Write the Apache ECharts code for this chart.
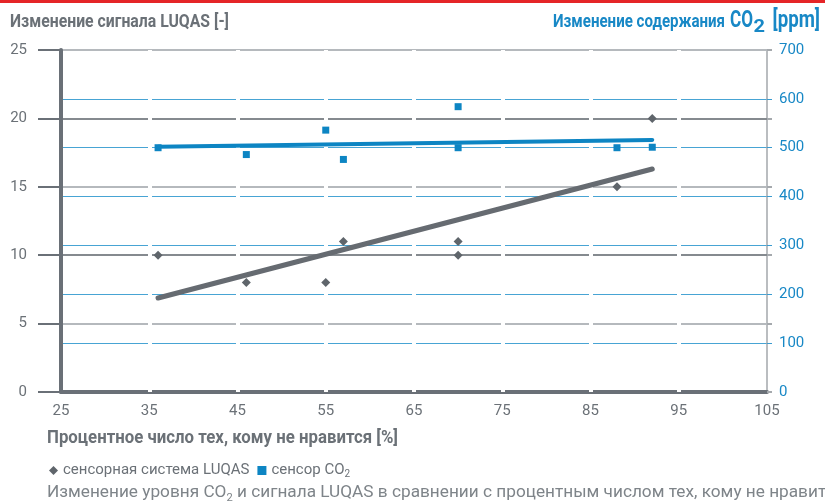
<!DOCTYPE html>
<html>
<head>
<meta charset="utf-8">
<script src="https://cdn.jsdelivr.net/npm/echarts@6/dist/echarts.min.js"></script>
<style>
html,body{margin:0;padding:0;background:#fff;}
#chart{width:825px;height:502px;}
</style>
</head>
<body>
<div id="chart"></div>
<script>
// ---- data ----
var xTicks = [25, 35, 45, 55, 65, 75, 85, 95, 105];
var luqasX = [36, 46, 55, 57, 70, 70, 88, 92];
var luqasY = [10, 8, 8, 11, 11, 10, 15, 20];
var co2X = [36, 46, 55, 57, 70, 70, 88, 92];
var co2Y = [500, 486, 536, 476, 584, 500, 500, 501];
var luqasTrendX = [36, 92];
var luqasTrendY = [6.87, 16.3];
var co2TrendX = [36, 92];
var co2TrendY = [502, 516];
var leftTicks = [0, 5, 10, 15, 20, 25];
var rightTicks = [0, 100, 200, 300, 400, 500, 600, 700];

var titleLeft = 'Изменение сигнала LUQAS [-]';
var titleRightA = 'Изменение содержания';
var titleRightB = 'CO';
var titleRightSub = '2';
var titleRightC = '[ppm]';
var xName = 'Процентное число тех, кому не нравится [%]';
var captionA = 'Изменение уровня CO';
var captionSub = '2';
var captionB = ' и сигнала LUQAS в сравнении с процентным числом тех, кому не нравится';
var legendNames = ['сенсорная система LUQAS', 'сенсор CO2'];

function pairs(xs, ys) { return xs.map(function (x, i) { return [x, ys[i]]; }); }

var FONT = 'Roboto';
var GRAY = '#6b7177';
var CAPGRAY = '#7e8489';
var BLUE = '#1888c6';

var mctx = document.createElement('canvas').getContext('2d');
function measure(t, size, weight) {
  mctx.font = (weight || 'normal') + ' ' + size + 'px ' + FONT;
  return mctx.measureText(t).width;
}
// condensed look: squeeze a text horizontally so it spans the width seen in the reference
function squeezed(t, x, yMid, size, weight, color, width) {
  var s = width / measure(t, size, weight);
  return {type: 'text', x: x, y: yMid, scaleX: s, silent: true,
    style: {text: t, fill: color, font: (weight || 'normal') + ' ' + size + 'px ' + FONT,
            align: 'left', verticalAlign: 'middle'}};
}
function mid(baseline, size) { return baseline - 0.342 * size; }

var capSize = 17, capSubSize = 11;
var capPrefixW = measure(captionA, capSize) + measure(captionSub, capSubSize) + measure(' и сигнала LUQAS в сра', capSize);
var capS = 373 / capPrefixW;
var capX1 = 47 + measure(captionA, capSize) * capS;
var capX2 = capX1 + measure(captionSub, capSubSize) * capS;
function capText(t, x, yMid, size) {
  return {type: 'text', x: x, y: yMid, scaleX: capS, silent: true,
    style: {text: t, fill: CAPGRAY, font: 'normal ' + size + 'px ' + FONT, align: 'left', verticalAlign: 'middle'}};
}

var chart = echarts.init(document.getElementById('chart'));
chart.setOption({
  animation: false,
  graphic: [
    {type: 'rect', left: 0, top: 0, silent: true, shape: {width: 825, height: 3}, style: {fill: '#e52528'}},
    squeezed(titleLeft, 10, mid(29, 18), 18, 'bold', GRAY, 219),
    squeezed(titleRightA, 553, mid(28.7, 18), 18, 'bold', BLUE, 172),
    squeezed(titleRightB, 730, mid(29.3, 24.5), 24.5, 'bold', BLUE, 23),
    squeezed(titleRightSub, 753.5, mid(33.3, 19), 19, 'bold', BLUE, 11.5),
    squeezed(titleRightC, 772.5, mid(29.3, 24.5), 24.5, 'bold', BLUE, 47.5),
    squeezed(xName, 47, mid(445, 18.5), 18.5, 'bold', GRAY, 351),
    capText(captionA, 47, mid(499, capSize), capSize),
    capText(captionSub, capX1, mid(502, capSubSize), capSubSize),
    capText(captionB, capX2, mid(499, capSize), capSize)
  ],
  legend: {
    left: 44, top: 458, itemWidth: 9, itemHeight: 9, itemGap: 8,
    data: [
      {name: legendNames[0], icon: 'diamond'},
      {name: legendNames[1], icon: 'rect'}
    ],
    formatter: function (n) { return n === legendNames[1] ? '{a|сенсор CO}{s|2}' : '{a|' + n + '}'; },
    textStyle: {rich: {
      a: {fontFamily: FONT, fontSize: 15, color: GRAY},
      s: {fontFamily: FONT, fontSize: 10, color: GRAY, padding: [7, 0, 0, 0]}
    }}
  },
  grid: {left: 61, right: 58, top: 50, bottom: 110},
  xAxis: [
    {type: 'value', min: xTicks[0], max: xTicks[xTicks.length - 1], interval: 10, z: 1,
     axisLine: {lineStyle: {color: '#6a7077', width: 4}},
     axisTick: {show: false},
     axisLabel: {color: GRAY, fontSize: 15, fontFamily: FONT, margin: 12},
     splitLine: {show: false}},
    {type: 'value', min: xTicks[0], max: xTicks[xTicks.length - 1], interval: 10, z: 2, position: 'bottom',
     axisLine: {show: false}, axisTick: {show: false}, axisLabel: {show: false},
     splitLine: {show: true, showMinLine: false, showMaxLine: false, lineStyle: {color: '#ffffff', width: 4}}}
  ],
  yAxis: [
    {type: 'value', min: leftTicks[0], max: leftTicks[leftTicks.length - 1], interval: 5, z: 1, position: 'left',
     axisLine: {show: true, lineStyle: {color: '#6a7077', width: 4}},
     axisTick: {show: true, length: 23, lineStyle: {color: ['#8a8f94', '#b5b9bd'], width: 2}},
     axisLabel: {color: GRAY, fontSize: 15, fontFamily: FONT, margin: 34},
     splitLine: {show: true, lineStyle: {color: ['#858a8f', '#b5b9bd'], width: 2}}},
    {type: 'value', min: rightTicks[0], max: rightTicks[rightTicks.length - 1], interval: 100, z: 0, position: 'right',
     axisLine: {show: true, lineStyle: {color: '#a3a7ab', width: 1.5}},
     axisTick: {show: true, length: 5, lineStyle: {color: '#3a9bd0', width: 1}},
     axisLabel: {color: BLUE, fontSize: 15, fontFamily: FONT, margin: 12},
     splitLine: {show: true, showMaxLine: false, lineStyle: {color: '#48a4d4', width: 1}}},
    {type: 'value', min: leftTicks[0], max: leftTicks[leftTicks.length - 1], interval: 5, z: 1, position: 'right',
     axisLine: {show: false}, axisLabel: {show: false}, splitLine: {show: false},
     axisTick: {show: true, length: 5, lineStyle: {color: '#a5a9ad', width: 2}}}
  ],
  series: [
    {name: legendNames[0], type: 'scatter', yAxisIndex: 0, symbol: 'diamond', symbolSize: 9,
     itemStyle: {color: '#5f656b', opacity: 1}, data: pairs(luqasX, luqasY), z: 4},
    {name: legendNames[1], type: 'scatter', yAxisIndex: 1, symbol: 'rect', symbolSize: 7,
     itemStyle: {color: '#0d85c3', opacity: 1}, data: pairs(co2X, co2Y), z: 4},
    {name: 'trendLuqas', type: 'line', yAxisIndex: 0, showSymbol: false, symbol: 'none',
     lineStyle: {color: '#666b71', width: 5, cap: 'round'}, data: pairs(luqasTrendX, luqasTrendY), z: 3},
    {name: 'trendCo2', type: 'line', yAxisIndex: 1, showSymbol: false, symbol: 'none',
     lineStyle: {color: '#0d85c3', width: 4, cap: 'round'}, data: pairs(co2TrendX, co2TrendY), z: 3}
  ]
});
</script>
</body>
</html>
